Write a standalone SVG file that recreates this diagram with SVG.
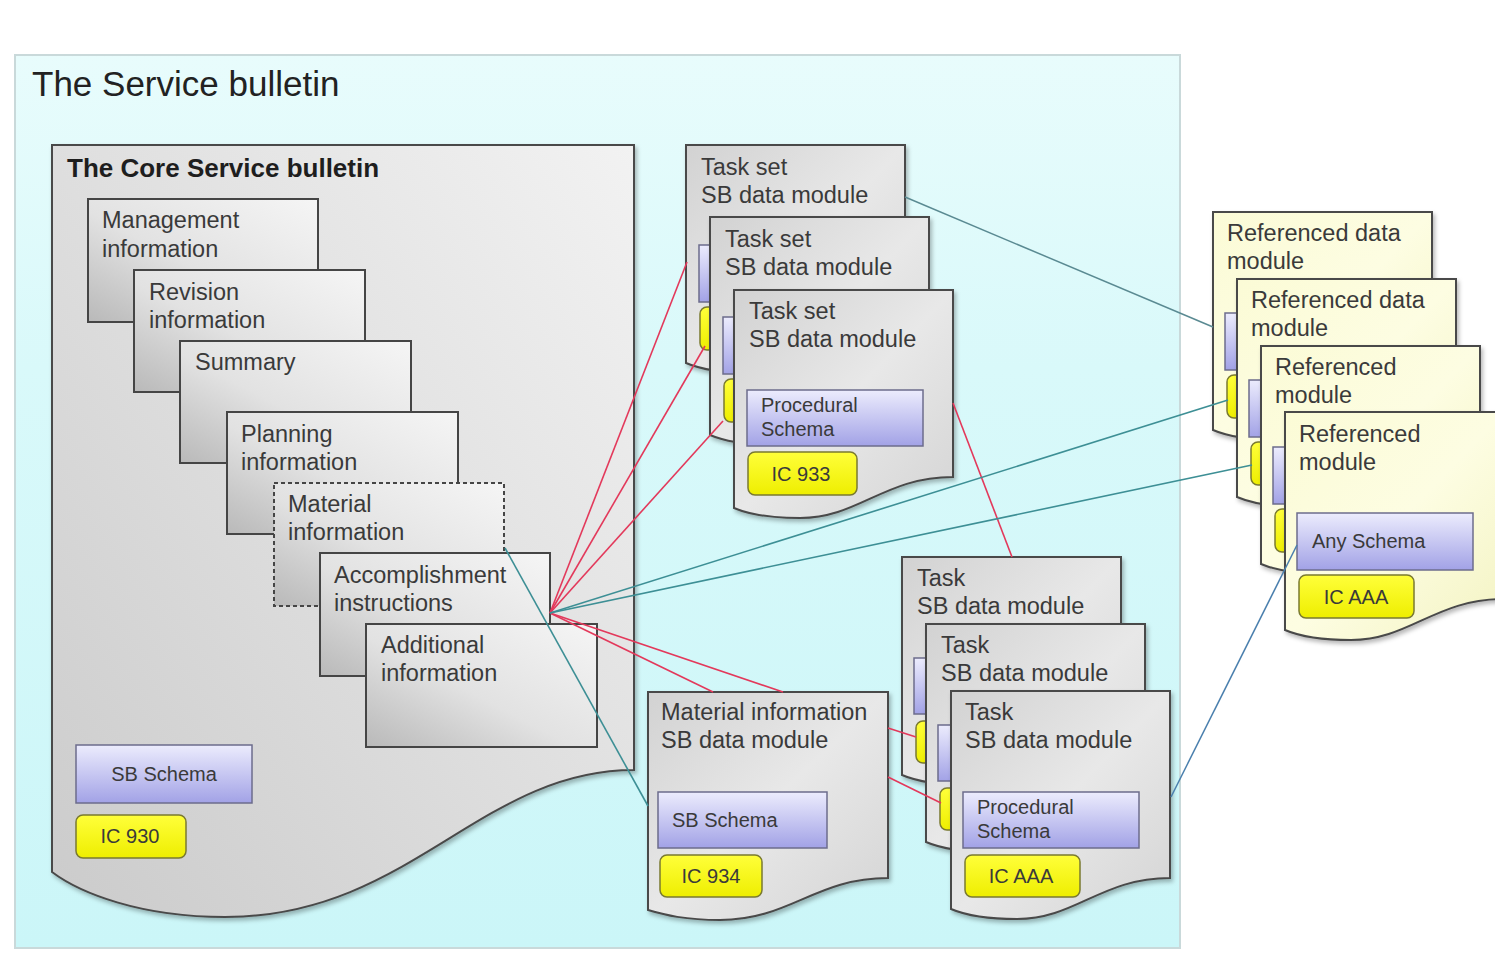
<svg xmlns="http://www.w3.org/2000/svg" xmlns:xlink="http://www.w3.org/1999/xlink" width="1495" height="963" viewBox="0 0 1495 963">
<defs>
<linearGradient id="panelGrad" x1="0" y1="0" x2="0" y2="1">
<stop offset="0" stop-color="#e8fcfc"/><stop offset="0.35" stop-color="#d9f9fa"/><stop offset="1" stop-color="#cbf6f8"/>
</linearGradient>
<linearGradient id="coreGrad" x1="1" y1="0" x2="0" y2="1">
<stop offset="0" stop-color="#f2f2f2"/><stop offset="1" stop-color="#cbcbcb"/>
</linearGradient>
<linearGradient id="boxGrad" x1="1" y1="0" x2="0" y2="1">
<stop offset="0" stop-color="#f5f5f5"/><stop offset="0.55" stop-color="#e2e2e2"/><stop offset="1" stop-color="#b9b9b9"/>
</linearGradient>
<linearGradient id="docGrad" x1="0" y1="0" x2="1" y2="1">
<stop offset="0" stop-color="#d2d2d2"/><stop offset="0.5" stop-color="#e8e8e8"/><stop offset="1" stop-color="#d4d4d4"/>
</linearGradient>
<linearGradient id="yelGrad" x1="0" y1="0" x2="1" y2="1">
<stop offset="0" stop-color="#fbfbd6"/><stop offset="0.5" stop-color="#fdfde2"/><stop offset="1" stop-color="#f3f3c2"/>
</linearGradient>
<linearGradient id="purpGrad" x1="0" y1="0" x2="0" y2="1">
<stop offset="0" stop-color="#ececfd"/><stop offset="1" stop-color="#a2a2e6"/>
</linearGradient>
<linearGradient id="icGrad" x1="0" y1="0" x2="0" y2="1">
<stop offset="0" stop-color="#ffff3a"/><stop offset="1" stop-color="#eeee00"/>
</linearGradient>
<filter id="shadow" x="-10%" y="-10%" width="130%" height="130%">
<feDropShadow dx="2" dy="3" stdDeviation="2" flood-color="#000" flood-opacity="0.28"/>
</filter>
<path id="doc" d="M0,0 H219 V187 C150,187 125,228 66,228 C35,228 14,224 0,218 Z"/>
</defs>
<style>
.lbl{font-family:"Liberation Sans",Arial,sans-serif;fill:#3a3a3a;}
.t23{font-size:23.5px;}
.t20{font-size:20px;}
.ic{font-size:20px;text-anchor:middle;}
.box{fill:url(#boxGrad);stroke:#454545;stroke-width:2;}
.gdoc{fill:url(#docGrad);stroke:#4a4a4a;stroke-width:2;filter:url(#shadow);}
.ydoc{fill:url(#yelGrad);stroke:#4a4a4a;stroke-width:2;filter:url(#shadow);}
.purp{fill:url(#purpGrad);stroke:#6c6c8c;stroke-width:1.5;}
.icb{fill:url(#icGrad);stroke:#7a7a30;stroke-width:1.5;}
.red{stroke:#e3395b;stroke-width:1.6;fill:none;}
.teal{stroke:#3d8f95;stroke-width:1.6;fill:none;}
.gray{stroke:#5a8a92;stroke-width:1.5;fill:none;}
.blue{stroke:#4b80ae;stroke-width:1.5;fill:none;}
</style>
<rect x="0" y="0" width="1495" height="963" fill="#ffffff"/>
<g id="panel">
<rect x="15" y="55" width="1165" height="893" fill="url(#panelGrad)" stroke="#c9d9da" stroke-width="2"/>
<text x="32" y="96" style="font-family:'Liberation Sans',Arial,sans-serif;font-size:35px;fill:#222">The Service bulletin</text>
</g>
<g id="core-sb">
<path d="M52,145 H634 V770 C480,770 410,917 225,917 C140,917 80,893 52,872 Z" fill="url(#coreGrad)" stroke="#4a4a4a" stroke-width="2" filter="url(#shadow)"/>
<text x="67" y="177" style="font-family:'Liberation Sans',Arial,sans-serif;font-size:26px;font-weight:bold;fill:#1e1e1e">The Core Service bulletin</text>
<g id="mgmt"><rect class="box" x="88" y="199" width="230" height="123"/><text class="lbl t23" x="102" y="228">Management</text><text class="lbl t23" x="102" y="257">information</text></g>
<g id="revision"><rect class="box" x="134" y="270" width="231" height="122"/><text class="lbl t23" x="149" y="300">Revision</text><text class="lbl t23" x="149" y="328">information</text></g>
<g id="summary"><rect class="box" x="180" y="341" width="231" height="122"/><text class="lbl t23" x="195" y="370">Summary</text></g>
<g id="planning"><rect class="box" x="227" y="412" width="231" height="122"/><text class="lbl t23" x="241" y="442">Planning</text><text class="lbl t23" x="241" y="470">information</text></g>
<g id="material-info"><rect class="box" x="274" y="483" width="230" height="123" stroke-dasharray="4 3"/><text class="lbl t23" x="288" y="512">Material</text><text class="lbl t23" x="288" y="540">information</text></g>
<g id="accomplishment"><rect class="box" x="320" y="553" width="230" height="123"/><text class="lbl t23" x="334" y="583">Accomplishment</text><text class="lbl t23" x="334" y="611">instructions</text></g>
<g id="additional"><rect class="box" x="366" y="624" width="231" height="123"/><text class="lbl t23" x="381" y="653">Additional</text><text class="lbl t23" x="381" y="681">information</text></g>
<g id="core-schema"><rect class="purp" x="76" y="745" width="176" height="58"/><text class="lbl t20" x="164" y="781" text-anchor="middle">SB Schema</text></g>
<g id="core-ic"><rect class="icb" x="76" y="815" width="110" height="43" rx="7"/><text class="lbl ic" x="130" y="843">IC 930</text></g>
</g>
<g id="taskset-1">
<use href="#doc" x="686" y="145" class="gdoc"/>
<rect class="purp" x="699" y="245" width="176" height="57"/><rect class="icb" x="700" y="307" width="109" height="43" rx="7"/>
<text class="lbl t23" x="701" y="175">Task set</text><text class="lbl t23" x="701" y="203">SB data module</text>
</g>
<g id="taskset-2">
<use href="#doc" x="710" y="217" class="gdoc"/>
<rect class="purp" x="723" y="317" width="176" height="57"/><rect class="icb" x="724" y="379" width="109" height="43" rx="7"/>
<text class="lbl t23" x="725" y="247">Task set</text><text class="lbl t23" x="725" y="275">SB data module</text>
</g>
<g id="taskset-3">
<use href="#doc" x="734" y="290" class="gdoc"/>
<rect class="purp" x="747" y="390" width="176" height="56"/>
<text class="lbl t20" x="761" y="412">Procedural</text><text class="lbl t20" x="761" y="436">Schema</text>
<rect class="icb" x="748" y="452" width="109" height="43" rx="7"/><text class="lbl ic" x="801" y="481">IC 933</text>
<text class="lbl t23" x="749" y="319">Task set</text><text class="lbl t23" x="749" y="347">SB data module</text>
</g>
<g id="ref-1">
<use href="#doc" x="1213" y="212" class="ydoc"/>
<rect class="purp" x="1225" y="313" width="176" height="57"/><rect class="icb" x="1227" y="375" width="115" height="43" rx="7"/>
<text class="lbl t23" x="1227" y="241">Referenced data</text><text class="lbl t23" x="1227" y="269">module</text>
</g>
<g id="ref-2">
<use href="#doc" x="1237" y="279" class="ydoc"/>
<rect class="purp" x="1249" y="380" width="176" height="57"/><rect class="icb" x="1251" y="442" width="115" height="43" rx="7"/>
<text class="lbl t23" x="1251" y="308">Referenced data</text><text class="lbl t23" x="1251" y="336">module</text>
</g>
<g id="ref-3">
<use href="#doc" x="1261" y="346" class="ydoc"/>
<rect class="purp" x="1273" y="447" width="176" height="57"/><rect class="icb" x="1275" y="509" width="115" height="43" rx="7"/>
<text class="lbl t23" x="1275" y="375">Referenced</text><text class="lbl t23" x="1275" y="403">module</text>
</g>
<g id="ref-4">
<use href="#doc" x="1285" y="412" class="ydoc"/>
<rect class="purp" x="1297" y="513" width="176" height="57"/><text class="lbl t20" x="1312" y="548">Any Schema</text>
<rect class="icb" x="1299" y="575" width="115" height="43" rx="7"/><text class="lbl ic" x="1356" y="604">IC AAA</text>
<text class="lbl t23" x="1299" y="442">Referenced</text><text class="lbl t23" x="1299" y="470">module</text>
</g>
<g id="material-dm">
<path class="gdoc" d="M648,692 H888 V878 C815,878 790,920 720,920 C685,920 665,915 648,910 Z"/>
<text class="lbl t23" x="661" y="720">Material information</text><text class="lbl t23" x="661" y="748">SB data module</text>
<rect class="purp" x="658" y="792" width="169" height="56"/><text class="lbl t20" x="672" y="827">SB Schema</text>
<rect class="icb" x="660" y="855" width="102" height="42" rx="7"/><text class="lbl ic" x="711" y="883">IC 934</text>
</g>
<g id="task-1">
<use href="#doc" x="902" y="557" class="gdoc"/>
<rect class="purp" x="914" y="658" width="176" height="56"/><rect class="icb" x="916" y="721" width="115" height="42" rx="7"/>
<text class="lbl t23" x="917" y="586">Task</text><text class="lbl t23" x="917" y="614">SB data module</text>
</g>
<g id="task-2">
<use href="#doc" x="926" y="624" class="gdoc"/>
<rect class="purp" x="938" y="725" width="176" height="56"/><rect class="icb" x="940" y="788" width="115" height="42" rx="7"/>
<text class="lbl t23" x="941" y="653">Task</text><text class="lbl t23" x="941" y="681">SB data module</text>
</g>
<g id="task-3">
<use href="#doc" x="951" y="691" class="gdoc"/>
<rect class="purp" x="963" y="792" width="176" height="56"/>
<text class="lbl t20" x="977" y="814">Procedural</text><text class="lbl t20" x="977" y="838">Schema</text>
<rect class="icb" x="965" y="855" width="115" height="42" rx="7"/><text class="lbl ic" x="1021" y="883">IC AAA</text>
<text class="lbl t23" x="965" y="720">Task</text><text class="lbl t23" x="965" y="748">SB data module</text>
</g>
<g id="connectors">
<line class="red" x1="550" y1="613" x2="687" y2="262"/>
<line class="red" x1="550" y1="613" x2="705" y2="346"/>
<line class="red" x1="550" y1="613" x2="723" y2="421"/>
<line class="red" x1="550" y1="613" x2="713" y2="692"/>
<line class="red" x1="550" y1="613" x2="783" y2="692"/>
<line class="red" x1="888" y1="728" x2="916" y2="737"/>
<line class="red" x1="888" y1="777" x2="941" y2="803"/>
<line class="red" x1="953" y1="403" x2="1012" y2="557"/>
<line class="teal" x1="550" y1="613" x2="1228" y2="400"/>
<line class="teal" x1="550" y1="613" x2="1252" y2="465"/>
<line class="teal" x1="505" y1="548" x2="648" y2="806"/>
<line class="gray" x1="905" y1="197" x2="1213" y2="327"/>
<line class="blue" x1="1171" y1="797" x2="1297" y2="545"/>
</g>
</svg>
